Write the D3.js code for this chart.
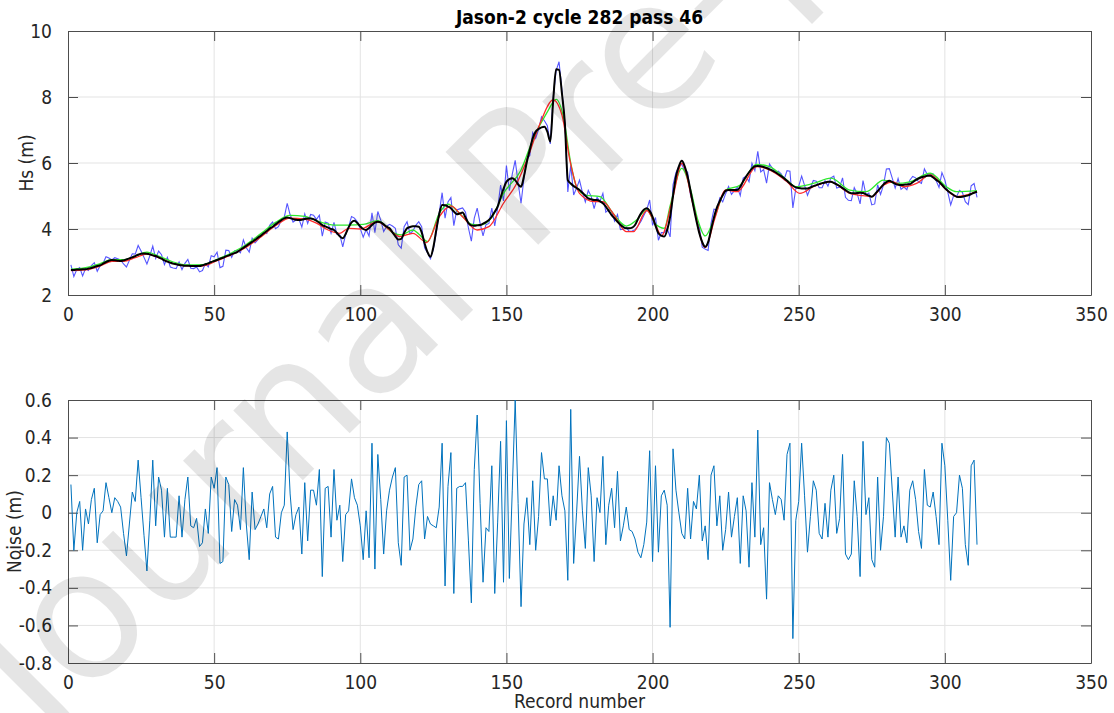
<!DOCTYPE html>
<html>
<head>
<meta charset="utf-8">
<script src="https://cdn.jsdelivr.net/npm/d3@7"></script>
<style>
body { margin: 0; background: #fff; }
svg text { font-family: "DejaVu Sans Condensed", "DejaVu Sans", sans-serif; }
</style>
</head>
<body>
<svg id="chart" width="1114" height="713"></svg>
<script>
// ---- data (record index = array index + 1) ----
const titleText = "Jason-2 cycle 282 pass 46";
const xTicks = [0, 50, 100, 150, 200, 250, 300, 350];
const hsTicks = [2, 4, 6, 8, 10];
const noiseTicks = [-0.8, -0.6, -0.4, -0.2, 0, 0.2, 0.4, 0.6];

// blue: observed Hs
const hsObserved = [
  2.91,2.56,2.77,2.83,2.58,2.80,2.74,2.89,2.98,2.72,
  2.89,2.96,3.16,3.12,3.06,3.13,3.10,3.06,2.94,2.85,
  3.05,3.25,3.24,3.50,3.33,3.14,2.94,3.19,3.48,3.11,
  3.33,3.22,2.92,3.14,2.85,2.82,2.80,3.00,2.77,2.96,
  3.08,2.81,2.80,2.85,2.70,2.74,2.95,2.85,3.19,3.16,
  3.30,2.83,2.87,3.36,3.35,3.14,3.34,3.35,3.28,3.67,
  3.43,3.30,3.72,3.58,3.68,3.78,3.89,3.86,4.11,4.21,
  4.01,4.07,4.27,4.36,4.78,4.43,4.21,4.27,4.30,4.06,
  4.46,4.17,4.44,4.42,4.29,4.42,3.78,4.21,4.18,3.87,
  4.20,3.84,3.82,3.46,3.84,4.06,4.38,4.33,4.22,4.01,
  3.75,3.98,3.79,4.49,3.89,4.53,4.27,3.92,4.08,4.14,
  4.09,4.02,3.52,3.42,4.07,4.22,3.86,3.94,4.11,4.22,
  4.07,3.43,3.28,3.10,3.38,3.89,4.48,5.10,4.33,4.82,
  4.95,4.10,4.58,4.61,4.64,4.51,4.03,3.63,4.33,4.63,
  4.17,3.79,4.13,4.17,4.63,4.09,4.63,5.33,4.85,5.92,
  5.16,5.66,6.08,5.40,4.78,5.54,6.12,6.23,6.92,6.75,
  7.01,7.40,7.28,7.13,6.58,7.99,8.80,9.07,8.19,7.21,
  5.12,5.93,5.03,5.24,5.48,5.11,4.82,5.17,4.99,4.62,
  4.96,4.84,5.08,4.51,4.59,4.55,4.24,4.44,3.98,3.99,
  4.05,3.93,3.94,3.98,4.09,4.23,4.41,4.58,4.88,4.11,
  4.35,3.66,3.89,3.89,4.01,3.76,5.34,5.71,5.90,5.96,
  5.76,5.72,5.01,4.74,4.27,4.07,3.45,3.39,3.35,4.17,
  4.60,4.58,4.94,4.82,5.07,5.29,5.05,5.16,5.26,5.01,
  5.54,5.60,5.43,5.99,5.77,6.35,5.73,5.80,5.39,5.97,
  5.84,5.71,5.75,5.67,5.50,5.77,5.75,4.64,5.22,5.30,
  5.60,5.32,5.02,5.24,5.47,5.45,5.25,5.25,5.46,5.30,
  5.55,5.60,5.24,5.27,5.55,4.96,4.87,4.86,5.25,5.07,
  4.76,5.47,5.04,5.09,4.73,4.76,5.34,5.05,5.33,5.82,
  5.83,5.54,5.24,5.53,5.20,5.27,5.19,5.48,5.59,5.55,
  5.43,5.38,5.82,5.65,5.64,5.67,5.47,5.26,5.71,5.49,
  5.12,4.73,5.01,4.98,5.17,5.11,4.83,4.74,5.31,5.38,
  4.96
];

// black: filtered Hs
const hsFiltered = [
  2.76,2.76,2.77,2.77,2.78,2.78,2.80,2.82,2.85,2.88,
  2.90,2.95,3.00,3.04,3.06,3.05,3.04,3.03,3.05,3.08,
  3.11,3.14,3.18,3.22,3.25,3.26,3.25,3.23,3.20,3.18,
  3.14,3.10,3.05,3.01,2.98,2.95,2.93,2.91,2.90,2.89,
  2.89,2.88,2.88,2.88,2.88,2.90,2.93,2.96,3.00,3.03,
  3.06,3.10,3.13,3.17,3.20,3.24,3.27,3.31,3.37,3.43,
  3.49,3.55,3.61,3.67,3.74,3.80,3.87,3.94,4.01,4.07,
  4.14,4.21,4.27,4.32,4.35,4.33,4.30,4.28,4.27,4.28,
  4.30,4.32,4.32,4.30,4.25,4.19,4.12,4.08,4.04,4.00,
  3.97,3.88,3.78,3.72,3.85,4.05,4.20,4.25,4.18,4.08,
  4.00,3.97,4.03,4.12,4.19,4.22,4.20,4.14,4.07,4.02,
  3.90,3.78,3.68,3.70,3.88,4.02,4.06,4.08,4.08,4.07,
  3.90,3.57,3.30,3.16,3.45,3.97,4.45,4.73,4.72,4.68,
  4.63,4.53,4.45,4.47,4.50,4.35,4.18,4.11,4.10,4.11,
  4.12,4.16,4.21,4.27,4.38,4.52,4.68,4.95,5.22,5.43,
  5.51,5.54,5.48,5.35,5.28,5.60,6.04,6.40,6.75,6.95,
  7.03,7.08,7.10,6.95,6.65,7.90,8.84,8.82,8.10,7.20,
  5.48,5.38,5.30,5.24,5.18,5.10,5.01,4.93,4.90,4.88,
  4.88,4.84,4.78,4.68,4.55,4.42,4.32,4.22,4.13,4.06,
  4.02,4.02,4.04,4.12,4.30,4.47,4.58,4.63,4.55,4.37,
  4.10,3.87,3.80,3.77,3.97,4.37,5.00,5.59,5.90,6.07,
  5.90,5.59,5.15,4.68,4.25,3.87,3.60,3.46,3.60,3.97,
  4.35,4.65,4.85,5.02,5.16,5.18,5.18,5.18,5.18,5.28,
  5.45,5.59,5.72,5.83,5.90,5.91,5.90,5.88,5.85,5.81,
  5.77,5.72,5.66,5.60,5.54,5.46,5.38,5.31,5.26,5.24,
  5.23,5.23,5.23,5.26,5.30,5.33,5.36,5.39,5.41,5.43,
  5.43,5.40,5.35,5.30,5.24,5.18,5.12,5.08,5.08,5.09,
  5.10,5.09,5.05,5.01,4.98,5.05,5.15,5.25,5.35,5.42,
  5.46,5.42,5.37,5.34,5.33,5.34,5.35,5.36,5.42,5.48,
  5.53,5.57,5.59,5.61,5.61,5.56,5.49,5.43,5.34,5.24,
  5.16,5.09,5.03,4.98,4.97,4.98,5.00,5.02,5.06,5.10,
  5.13
];

// green smooth curve (record, Hs)
const greenRecords = [1,6,11,15,19,23,27,31,36,41,46,51,56,61,66,71,76,81,86,91,96,101,106,111,114,118,120,123,127,130,134,138,141,145,149,155,159,164,167,169.5,172,174,177,182,186.5,191,194.5,198,201,204,206,210,213,215.5,218,221,225,230,235.5,240,246,249,255,261,267.5,273,279,283.5,288,295,300.5,304,311];
const greenHs = [2.78,2.83,2.95,3.07,3.07,3.18,3.30,3.18,3.00,2.91,2.92,3.08,3.28,3.53,3.86,4.20,4.41,4.38,4.22,4.12,4.12,4.14,4.25,3.90,3.82,3.97,3.85,3.62,4.47,4.75,4.47,4.15,4.12,4.35,5.08,5.79,6.70,7.55,7.93,7.40,6.00,5.28,5.03,4.98,4.47,4.09,4.27,4.58,4.15,4.02,4.70,5.84,5.20,4.27,3.79,4.30,5.18,5.33,5.96,5.89,5.48,5.28,5.38,5.54,5.18,5.13,5.48,5.38,5.43,5.69,5.28,5.13,5.16];

// red smooth curve (record, Hs)
const redRecords = [1,6,11,15,19,23,27,31,36,41,46,51,56,61,66,71,76,81,85,89,93,96,100,106,110,113.5,118,122.7,127,131,135,140,144,149,153.5,157,161.5,166,169,171.7,175,180,183,186.5,191,193.5,198,201.3,203,207,210,214,218,221.3,225,229,235.6,240,246,250.4,255,260.7,267.5,272,275,279,282.4,285.8,290.3,295,300.6,304,311];
const redHs = [2.74,2.76,2.88,3.02,3.02,3.13,3.24,3.13,2.95,2.88,2.88,3.04,3.22,3.45,3.76,4.10,4.33,4.30,4.18,3.97,3.87,4.02,4.00,4.22,3.97,3.77,3.87,3.59,4.37,4.70,4.37,3.97,4.07,4.78,5.38,6.09,7.20,7.91,7.45,6.09,5.08,4.83,4.83,4.47,3.92,3.92,4.56,4.07,3.79,4.98,5.99,4.68,3.44,4.32,5.18,5.13,5.89,5.79,5.43,5.08,5.28,5.43,5.08,5.01,4.98,5.33,5.43,5.28,5.38,5.64,5.18,4.98,5.13];

// bottom panel: noise (m)
const noise = [
  0.15,-0.20,0.00,0.06,-0.20,0.02,-0.06,0.07,0.13,-0.16,
  -0.01,0.01,0.16,0.08,0.00,0.08,0.06,0.03,-0.11,-0.23,
  -0.06,0.11,0.06,0.28,0.08,-0.12,-0.31,-0.04,0.28,-0.07,
  0.19,0.12,-0.13,0.13,-0.13,-0.13,-0.13,0.09,-0.13,0.07,
  0.19,-0.07,-0.08,-0.03,-0.18,-0.16,0.02,-0.11,0.19,0.13,
  0.24,-0.27,-0.26,0.19,0.15,-0.10,0.07,0.04,-0.09,0.24,
  -0.06,-0.25,0.11,-0.09,-0.06,-0.02,0.02,-0.08,0.10,0.14,
  -0.13,-0.14,0.00,0.04,0.43,0.10,-0.09,-0.01,0.03,-0.22,
  0.16,-0.15,0.12,0.12,0.04,0.23,-0.34,0.13,0.14,-0.13,
  0.23,-0.04,0.04,-0.26,-0.01,0.01,0.18,0.08,0.04,-0.07,
  -0.25,0.01,-0.24,0.37,-0.30,0.31,0.07,-0.22,0.01,0.12,
  0.19,0.24,-0.16,-0.28,0.19,0.20,-0.20,-0.14,0.03,0.15,
  0.17,-0.14,-0.02,-0.06,-0.07,-0.08,0.03,0.37,-0.39,0.14,
  0.32,-0.43,0.13,0.14,0.14,0.16,-0.15,-0.48,0.23,0.52,
  0.05,-0.37,-0.08,-0.10,0.25,-0.43,-0.05,0.38,-0.37,0.49,
  -0.35,0.12,0.60,0.05,-0.50,-0.06,0.08,-0.17,0.17,-0.20,
  -0.02,0.32,0.18,0.18,-0.07,0.09,-0.04,0.25,0.09,0.01,
  -0.36,0.55,-0.27,0.00,0.30,0.01,-0.19,0.24,0.09,-0.26,
  0.08,0.00,0.30,-0.17,0.04,0.13,-0.08,0.22,-0.15,-0.07,
  0.03,-0.09,-0.10,-0.14,-0.21,-0.24,-0.17,-0.05,0.33,-0.26,
  0.25,-0.21,0.09,0.12,0.04,-0.61,0.34,0.12,0.00,-0.11,
  -0.14,0.13,-0.14,0.06,0.02,0.20,-0.15,-0.07,-0.25,0.20,
  0.25,-0.07,0.09,-0.20,-0.09,0.11,-0.13,-0.02,0.08,-0.27,
  0.09,0.01,-0.29,0.16,-0.13,0.44,-0.17,-0.08,-0.46,0.16,
  0.07,-0.01,0.09,0.07,-0.04,0.31,0.37,-0.67,-0.04,0.06,
  0.37,0.09,-0.21,-0.02,0.17,0.12,-0.11,-0.14,0.05,-0.13,
  0.12,0.20,-0.11,-0.03,0.31,-0.22,-0.25,-0.22,0.17,-0.02,
  -0.34,0.38,-0.01,0.08,-0.25,-0.29,0.19,-0.20,-0.02,0.40,
  0.37,0.12,-0.13,0.19,-0.13,-0.07,-0.16,0.12,0.17,0.07,
  -0.10,-0.19,0.23,0.04,0.03,0.11,-0.02,-0.17,0.37,0.25,
  -0.04,-0.36,-0.02,0.00,0.20,0.13,-0.17,-0.28,0.25,0.28,
  -0.17
];

// ---- layout ----
const width = 1114;
const height = 713;
const left = 68, right = 1091;
const topPanel = { top: 31, bottom: 295 };
const botPanel = { top: 400, bottom: 663 };
const axisColor = "#4d4d4d";
const gridColor = "#e3e3e3";
const tickLen = 10;
const labelFont = "19px";

const svg = d3.select("#chart");
svg.selectAll("*").remove();
svg.append("rect").attr("width", width).attr("height", height).attr("fill", "#fff");

const x = d3.scaleLinear().domain([0, 350]).range([left, right]);
const yHs = d3.scaleLinear().domain([2, 10]).range([topPanel.bottom, topPanel.top]);
const yNoise = d3.scaleLinear().domain([-0.8, 0.6]).range([botPanel.bottom, botPanel.top]);

const fmt = v => {
    const s = d3.format("~g")(Math.round(v * 10) / 10);
    return s.replace("\u2212", "-");
};

function drawPanel(y, panel, yTicks) {
    const g = svg.append("g");

    // grid
    g.append("g").selectAll("line").data(xTicks.slice(1, -1)).enter().append("line")
        .attr("x1", d => x(d)).attr("x2", d => x(d))
        .attr("y1", panel.top).attr("y2", panel.bottom)
        .attr("stroke", gridColor).attr("stroke-width", 1);
    g.append("g").selectAll("line").data(yTicks.slice(1, -1)).enter().append("line")
        .attr("x1", left).attr("x2", right)
        .attr("y1", d => y(d)).attr("y2", d => y(d))
        .attr("stroke", gridColor).attr("stroke-width", 1);

    // axes, ticks pointing inward on every side
    g.append("g").attr("transform", "translate(0," + panel.bottom + ")")
        .call(d3.axisBottom(x).tickValues(xTicks).tickSizeInner(-tickLen).tickSizeOuter(0).tickPadding(13).tickFormat(fmt));
    g.append("g").attr("transform", "translate(0," + panel.top + ")")
        .call(d3.axisTop(x).tickValues(xTicks).tickSizeInner(-tickLen).tickSizeOuter(0).tickFormat(""));
    g.append("g").attr("transform", "translate(" + left + ",0)")
        .call(d3.axisLeft(y).tickValues(yTicks).tickSizeInner(-tickLen).tickSizeOuter(0).tickPadding(16).tickFormat(fmt));
    g.append("g").attr("transform", "translate(" + right + ",0)")
        .call(d3.axisRight(y).tickValues(yTicks).tickSizeInner(-tickLen).tickSizeOuter(0).tickFormat(""));

    g.selectAll(".domain").attr("stroke", axisColor);
    g.selectAll(".tick line").attr("stroke", axisColor);
    g.selectAll(".tick text")
        .attr("fill", "#262626")
        .style("font-size", labelFont)
        .style("font-family", '"DejaVu Sans Condensed", "DejaVu Sans", sans-serif');
    return g;
}

drawPanel(yHs, topPanel, hsTicks);
drawPanel(yNoise, botPanel, noiseTicks);

// ---- top panel lines ----
svg.append("clipPath").attr("id", "clipTop")
    .append("rect").attr("x", left).attr("y", topPanel.top)
    .attr("width", right - left).attr("height", topPanel.bottom - topPanel.top);

const lines = svg.append("g").attr("clip-path", "url(#clipTop)");

lines.append("path")
    .datum(hsObserved)
    .attr("d", d3.line().x((d, i) => x(i + 1)).y(d => yHs(d)))
    .attr("fill", "none").attr("stroke", "#2b2bff").attr("stroke-width", 1.1).attr("stroke-opacity", 0.8);

const smoothLine = d3.line().curve(d3.curveMonotoneX)
    .x(d => x(d[0])).y(d => yHs(d[1]));

lines.append("path")
    .datum(d3.zip(greenRecords, greenHs))
    .attr("d", smoothLine)
    .attr("fill", "none").attr("stroke", "#2ee82e").attr("stroke-width", 1.3);

lines.append("path")
    .datum(d3.zip(redRecords, redHs))
    .attr("d", smoothLine)
    .attr("fill", "none").attr("stroke", "#ff2a2a").attr("stroke-width", 1.3);

lines.append("path")
    .datum(hsFiltered)
    .attr("d", d3.line().curve(d3.curveMonotoneX).x((d, i) => x(i + 1)).y(d => yHs(d)))
    .attr("fill", "none").attr("stroke", "#000").attr("stroke-width", 2);

// ---- bottom panel line ----
svg.append("path")
    .datum(noise)
    .attr("d", d3.line().x((d, i) => x(i + 1)).y(d => yNoise(d)))
    .attr("fill", "none").attr("stroke", "#0072bd").attr("stroke-width", 1);

// ---- labels ----
svg.append("text")
    .attr("x", (left + right) / 2).attr("y", 24)
    .attr("text-anchor", "middle")
    .style("font-size", "19px").style("font-weight", "bold")
    .text(titleText);

svg.append("text")
    .attr("transform", "translate(33," + ((topPanel.top + topPanel.bottom) / 2) + ") rotate(-90)")
    .attr("text-anchor", "middle").attr("fill", "#262626")
    .style("font-size", labelFont)
    .text("Hs (m)");

svg.append("text")
    .attr("transform", "translate(21," + ((botPanel.top + botPanel.bottom) / 2) + ") rotate(-90)")
    .attr("text-anchor", "middle").attr("fill", "#262626")
    .style("font-size", labelFont)
    .text("Noise (m)");

svg.append("text")
    .attr("x", (left + right) / 2).attr("y", 708)
    .attr("text-anchor", "middle").attr("fill", "#262626")
    .style("font-size", labelFont)
    .text("Record number");

// watermark
svg.append("text")
    .attr("transform", "translate(45,738) rotate(-45)")
    .attr("fill", "#000").attr("fill-opacity", 0.1)
    .style("font-family", '"DejaVu Sans", sans-serif')
    .style("font-size", "180px")
    .text("Journal Pre-proof");
</script>
</body>
</html>
